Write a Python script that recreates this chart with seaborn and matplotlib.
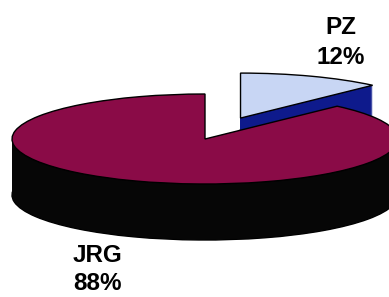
import matplotlib
matplotlib.use('Agg')
import matplotlib.pyplot as plt
import seaborn as sns
import numpy as np

# ---- data ----
categories = ['JRG', 'PZ']
shares = [88, 12]
explode = [0.0, 0.5]
top_colors = ['#8A0B47', '#C8D6F4']
side_colors = ['#060606', '#0E1A8C']

sns.set_theme(style='white')
plt.rcParams['font.family'] = ['Liberation Sans', 'DejaVu Sans']

W, H = 389, 297
fig = plt.figure(figsize=(W / 100, H / 100), dpi=100)
ax = fig.add_axes([0, 0, 1, 1])

# layout of the projected (tilted) pie, in pixels
cx_px, cy_px = 205, 139
rx_px, ry_px = 193, 45
depth_px = 56

xlim = (-cx_px / rx_px, (W - cx_px) / rx_px)
ylim = (-(H - cy_px) / ry_px, cy_px / ry_px)
depth = depth_px / ry_px

n_layers = int(depth_px * 2)
offsets = np.linspace(-depth, 0, n_layers + 1)
for i, off in enumerate(offsets):
    is_top = (i == len(offsets) - 1)
    cols = top_colors if is_top else side_colors
    wedges, _ = ax.pie(shares, explode=explode, startangle=90, counterclock=True,
                       colors=cols, center=(0, off), radius=1,
                       wedgeprops=dict(edgecolor='black' if (is_top or i == 0) else 'none',
                                       linewidth=1.0 if (is_top or i == 0) else 0,
                                       antialiased=True))
    # PZ slice lies behind, JRG in front
    wedges[1].set_zorder(1)
    wedges[0].set_zorder(2)

ax.set_aspect('auto')
ax.set_xlim(*xlim)
ax.set_ylim(*ylim)
ax.axis('off')

label_pos = {'PZ': (341, 28, 57), 'JRG': (97, 256, 284)}
for cat, val in zip(categories, shares):
    x, y1, y2 = label_pos[cat]
    fig.text(x / W, 1 - y1 / H, cat, ha='center', va='center', fontsize=17.5,
             fontweight='bold', color='black')
    fig.text(x / W, 1 - y2 / H, f'{val}%', ha='center', va='center', fontsize=17.5,
             fontweight='bold', color='black')

fig.savefig('out.png', dpi=100, facecolor='white')
